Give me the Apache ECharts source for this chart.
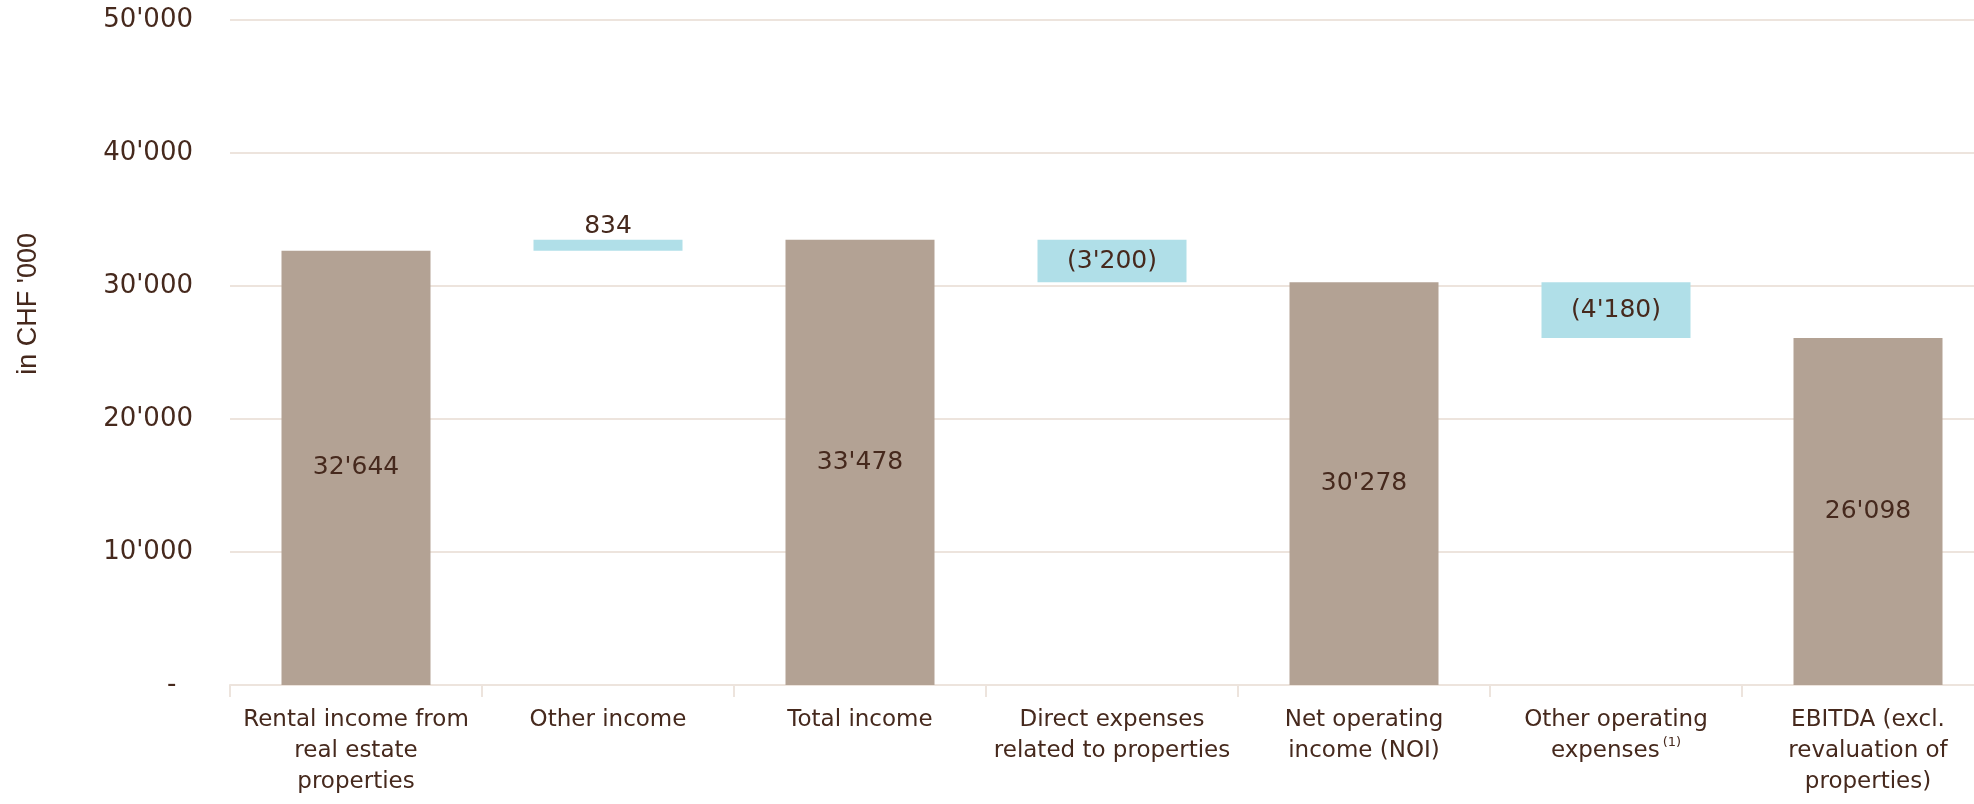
<!DOCTYPE html>
<html><head><meta charset="utf-8">
<script src="https://cdn.jsdelivr.net/npm/echarts@6/dist/echarts.min.js"></script>
<style>html,body{margin:0;padding:0;background:#fff;overflow:hidden;width:1974px;height:804px}#c{width:1994px;height:804px}</style>
</head><body><div id="c"></div>
<script>
const categories = [
  'Rental income from\nreal estate\nproperties',
  'Other income',
  'Total income',
  'Direct expenses\nrelated to properties',
  'Net operating\nincome (NOI)',
  'Other operating\nexpenses{sup|(1)}',
  'EBITDA (excl.\nrevaluation of\nproperties)'
];
const totals  = [32644, null, 33478, null, 30278, null, 26098];
const changes = [null, 834, null, -3200, null, -4180, null];
const yTicks = [0, 10000, 20000, 30000, 40000, 50000];
const axisName = "in CHF '000";

const fmt = v => {
  if (v === 0) return '-  ';
  return String(Math.abs(v)).replace(/\B(?=(\d{3})+(?!\d))/g, "'");
};

// derive waterfall pieces
let running = 0;
const base = [], totalData = [], changeData = [];
for (let i = 0; i < categories.length; i++) {
  if (totals[i] != null) {
    running = totals[i];
    base.push('-'); totalData.push(totals[i]); changeData.push('-');
  } else {
    const c = changes[i];
    const lo = c >= 0 ? running : running + c;
    base.push(lo);
    totalData.push('-');
    const item = {value: Math.abs(c), raw: c};
    if (c >= 0) item.label = {position: 'top', distance: 1};
    changeData.push(item);
    running += c;
  }
}

const textColor = '#46291d';
const gridColor = '#ede4dd';
const mainFont = '"DejaVu Sans", sans-serif';
const chart = echarts.init(document.getElementById('c'));
chart.setOption({
  animation: false,
  grid: {left: 230, top: 20, bottom: 119, right: 0},
  graphic: [{
    type: 'text', left: 15, top: 233, rotation: Math.PI / 2,
    style: {text: axisName, fill: textColor, font: '27px "Liberation Sans", Arial, sans-serif'}
  }],
  xAxis: {
    type: 'category', data: categories,
    axisLine: {lineStyle: {color: gridColor, width: 2}},
    axisTick: {show: true, length: 12, lineStyle: {color: gridColor, width: 2}},
    axisLabel: {
      interval: 0, margin: 20, color: textColor, fontSize: 23, lineHeight: 31,
      fontFamily: mainFont, align: 'center',
      rich: {sup: {fontSize: 13, verticalAlign: 'top', lineHeight: 24, padding: [0,0,0,3], color: textColor,
        fontFamily: mainFont}}
    }
  },
  yAxis: {
    type: 'value', min: 0, max: 50000, interval: 10000,
    axisLine: {show: false}, axisTick: {show: false},
    splitLine: {lineStyle: {color: gridColor, width: 2}},
    axisLabel: {formatter: fmt, color: textColor, fontSize: 26, margin: 37, fontFamily: mainFont}
  },
  series: [
    {type: 'bar', stack: 'wf', data: base, itemStyle: {color: 'transparent'}, barWidth: 149, silent: true},
    {type: 'bar', stack: 'wf', data: totalData, itemStyle: {color: '#b3a294'}, barWidth: 149,
      label: {show: true, position: 'inside', color: textColor, fontSize: 25, fontFamily: mainFont,
        formatter: p => fmt(p.value)}},
    {type: 'bar', stack: 'wf', data: changeData, itemStyle: {color: '#b0dfe8'}, barWidth: 149,
      label: {show: true, color: textColor, fontSize: 25, fontFamily: mainFont, position: 'inside',
        formatter: p => p.data.raw < 0 ? '(' + fmt(p.data.raw) + ')' : fmt(p.data.raw)}}
  ]
});
</script></body></html>
